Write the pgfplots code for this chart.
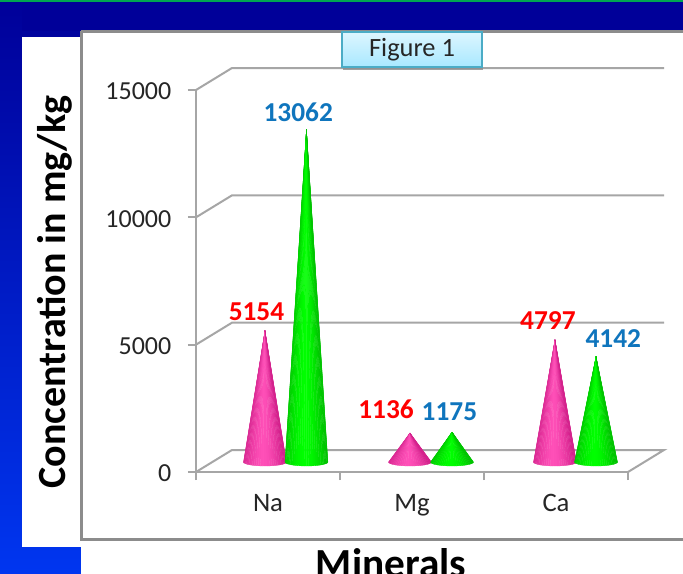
\documentclass[border=0pt]{standalone}
\usepackage{fontspec}
\setmainfont{Carlito}
\usepackage{pgfplots}
\pgfplotsset{compat=1.18}

\definecolor{gridgray}{HTML}{A6A6A6}
\definecolor{framegray}{HTML}{8C8C8C}
\definecolor{navy}{HTML}{000099}
\definecolor{royal}{HTML}{0036F0}
\definecolor{topline}{HTML}{00A651}
\definecolor{valred}{HTML}{FF0000}
\definecolor{valblue}{HTML}{0F75BD}
\definecolor{pinkedge}{HTML}{D4218C}
\definecolor{pinkmid}{HTML}{FF50B8}
\definecolor{greenedge}{HTML}{00C400}
\definecolor{greenmid}{HTML}{00FF00}
\definecolor{boxedge}{HTML}{4BACC6}
\definecolor{boxtop}{HTML}{DDF6FF}
\definecolor{boxbottom}{HTML}{A8E8FF}

% depth of the chart's floor and walls
\newcommand{\depthx}{27pt}
\newcommand{\depthy}{16.5pt}

% Cone at category position #1 with height #2, standing halfway into the depth.
% The round side is built from narrow sectors running from the tip to the base rim.
\newcommand{\cone}[4]{%
  \pgfplotsforeachungrouped \k in {0,1,...,29}{%
    \pgfmathsetmacro{\ang}{\k*6}%
    \pgfmathsetmacro{\angb}{(\k+1)*6}%
    \pgfmathsetmacro{\xa}{#1-0.149*cos(\ang)}%
    \pgfmathsetmacro{\ya}{-157*sin(\ang)}%
    \pgfmathsetmacro{\xb}{#1-0.149*cos(\angb)}%
    \pgfmathsetmacro{\yb}{-157*sin(\angb)}%
    \pgfmathsetmacro{\pct}{min(100,100*(abs(-cos(\ang+3)+0.08))^1.6)}%
    \edef\sector{\noexpand\addplot[forget plot, line width=0.2pt,
        xshift=13.5pt, yshift=7.5pt,
        draw={#3!\pct!#4}, fill={#3!\pct!#4}]
      coordinates {(#1,#2) (\xa,\ya) (\xb,\yb)} -- cycle;}%
    \sector
  }%
}

\begin{document}
\begin{tikzpicture}[x=0.75pt, y=-0.75pt]
  \clip (0,0) rectangle (683,574);

  % slide background
  \shade[top color=navy, bottom color=royal] (0,0) rectangle (683,574);
  \fill[navy] (22,0) rectangle (683,31);
  \fill[topline] (0,0) rectangle (683,2);
  \fill[white] (22,37) rectangle (81,547);
  \fill[white] (81,31) rectangle (683,574);
  \draw[framegray, line width=1.6pt] (81.5,31) -- (81.5,539.5) -- (683,539.5);
  \draw[framegray, line width=1.6pt] (81,31.5) -- (683,31.5);

  \node[rotate=90, font=\fontsize{30}{30}\bfseries\selectfont, text=black]
    at (55,292) {Concentration in mg/kg};
  \node[anchor=base, font=\fontsize{31}{31}\bfseries\selectfont, text=black]
    at (391,577) {Minerals};

  \coordinate (axisorigin) at (196,472);
  \begin{axis}[
      at={(axisorigin)}, anchor=south west,
      scale only axis, width=324pt, height=286.5pt,
      xmin=0, xmax=3, ymin=0, ymax=15000,
      clip=false,
      axis y line*=left, axis x line*=bottom,
      axis line style={gridgray, line width=1.5pt, -},
      xtick={0.5,1.5,2.5},
      xticklabels={Na,Mg,Ca},
      minor xtick={0,1,2,3},
      ytick={0,5000,10000,15000},
      major x tick style={draw=none},
      every tick/.style={gridgray, line width=1.5pt},
      minor tick length=6pt,
      major tick length=6pt,
      tick align=outside,
      y tick style={gridgray, line width=1.5pt},
      scaled y ticks=false,
      yticklabel style={/pgf/number format/assume math mode=true,
        /pgf/number format/1000 sep={}, font=\fontsize{19.5}{19.5}\selectfont,
        text=black!85, xshift=-9pt, yshift=-1pt},
      xticklabel style={font=\fontsize{20}{20}\selectfont, text=black!85, yshift=-7pt},
    ]

    % floor and back wall
    \draw[gridgray, line width=1.5pt]
      (axis cs:0,0) -- ++(\depthx,\depthy) -- ++(324pt,0pt) -- (axis cs:3,0);
    \draw[gridgray, line width=1.5pt]
      (axis cs:0,5000) -- ++(\depthx,\depthy) -- ++(324pt,0pt);
    \draw[gridgray, line width=1.5pt]
      (axis cs:0,10000) -- ++(\depthx,\depthy) -- ++(324pt,0pt);
    \draw[gridgray, line width=1.5pt]
      (axis cs:0,15000) -- ++(\depthx,\depthy) -- ++(324pt,0pt);

    % Na, Mg, Ca
    \cone{0.354}{5154}{pinkedge}{pinkmid}
    \cone{0.642}{13062}{greenedge}{greenmid}
    \cone{1.361}{1136}{pinkedge}{pinkmid}
    \cone{1.653}{1175}{greenedge}{greenmid}
    \cone{2.368}{4797}{pinkedge}{pinkmid}
    \cone{2.653}{4142}{greenedge}{greenmid}

    % value labels
    \node[text=valred, font=\fontsize{20.5}{20.5}\bfseries\selectfont]  at (axis cs:0.42,6290)  {5154};
    \node[text=valblue, font=\fontsize{20.5}{20.5}\bfseries\selectfont] at (axis cs:0.71,14110) {13062};
    \node[text=valred, font=\fontsize{20.5}{20.5}\bfseries\selectfont]  at (axis cs:1.32,2460)  {1136};
    \node[text=valblue, font=\fontsize{20.5}{20.5}\bfseries\selectfont] at (axis cs:1.76,2360)  {1175};
    \node[text=valred, font=\fontsize{20.5}{20.5}\bfseries\selectfont]  at (axis cs:2.444,5930)  {4797};
    \node[text=valblue, font=\fontsize{20.5}{20.5}\bfseries\selectfont] at (axis cs:2.898,5250)  {4142};
  \end{axis}

  % caption tab at the top of the frame
  \fill[black!45, opacity=0.8] (343,36) rectangle (483,70);
  \shade[top color=boxtop, bottom color=boxbottom, draw=boxedge, line width=1.3pt]
    (342,32) rectangle (482,67);
  \node[font=\fontsize{19.8}{19.8}\selectfont, text=black!85] at (412,50) {Figure 1};
\end{tikzpicture}
\end{document}
